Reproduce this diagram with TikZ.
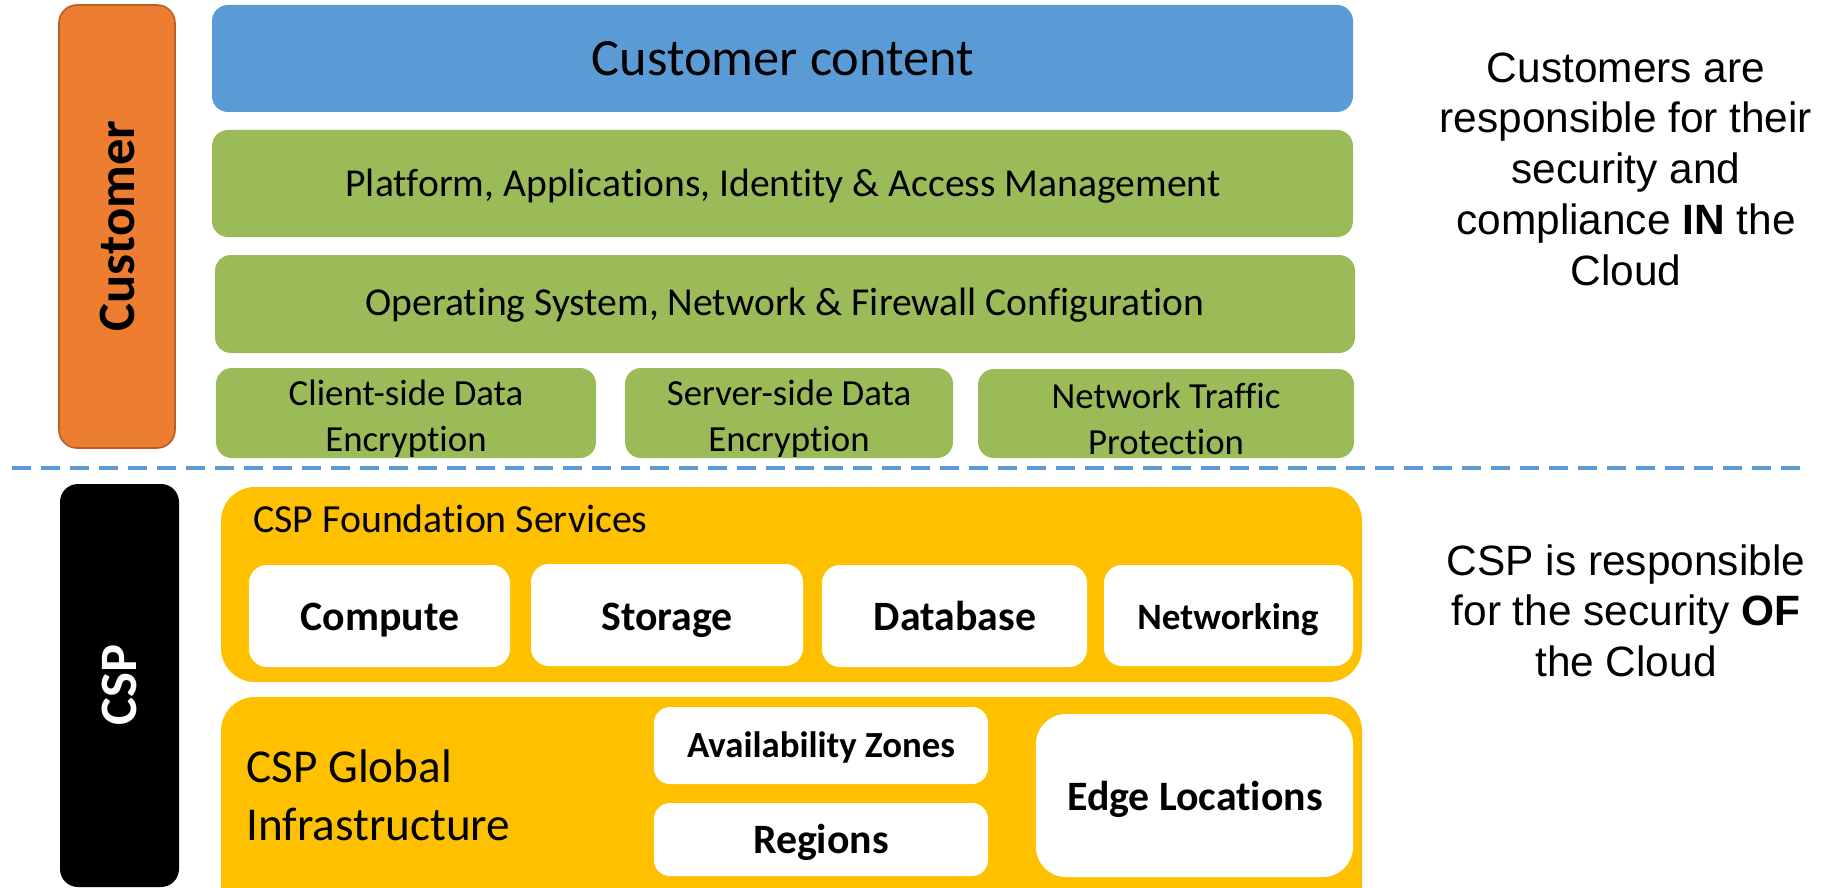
\documentclass[tikz,border=0pt]{standalone}
\usepackage{fontspec}
\setmainfont{Carlito}[Ligatures={NoCommon,NoContextual}, RawFeature={-liga;-clig;-calt;-dlig}]
\newfontfamily\arialfont{Liberation Sans}
\usepackage{tikz}
\definecolor{cblue}{HTML}{5B9BD5}
\definecolor{cgreen}{HTML}{9BBB59}
\definecolor{corange}{HTML}{ED7D31}
\definecolor{corangedark}{HTML}{B85F24}
\definecolor{cyellow}{HTML}{FFC000}
\tikzset{
	greenbox/.style={fill=cgreen, rounded corners=8pt},
	whitebox/.style={fill=white, rounded corners=9pt},
	yellowbox/.style={fill=cyellow, rounded corners=17pt},
	sidebar/.style={rotate=90, inner sep=0, font=\bfseries\fontsize{26.3}{30}\selectfont},
	layertext/.style={inner sep=0, anchor=base, font=\fontsize{19.8}{24}\selectfont},
	smalltext/.style={inner sep=0, align=center, font=\fontsize{18.4}{23}\selectfont},
	servicetext/.style={inner sep=0, anchor=base, font=\bfseries\fontsize{20.9}{25}\selectfont},
	notetext/.style={inner sep=0, anchor=north, align=center, font=\arialfont\fontsize{21.2}{25.4}\selectfont},
}

\begin{document}
\begin{tikzpicture}[x=0.5pt, y=-0.5pt]
			%%%%% START %%%%%
			
			\clip (0, 0) rectangle (1821, 888);
			\fill[white] (0, 0) rectangle (1821, 888);
			
			\draw[fill=corange, draw=corangedark, line width=0.8pt, rounded corners=9pt] (59, 5) rectangle (175, 448);
			\node[sidebar] (customer) at (117, 226) {Customer};
			
			\fill[cblue, rounded corners=8pt] (212, 5) rectangle (1353, 112);
			\node[inner sep=0, anchor=base, font=\fontsize{26.2}{30}\selectfont] (content) at (783, 76) {Customer content};
			
			\fill[greenbox] (212, 130) rectangle (1353, 237);
			\node[layertext] (platform) at (783, 197) {Platform, Applications, Identity \& Access Management};
			
			\fill[greenbox] (215, 255) rectangle (1355, 353);
			\node[layertext] (os) at (785, 315) {Operating System, Network \& Firewall Configuration};
			
			\fill[greenbox] (216, 368) rectangle (596, 458);
			\node[smalltext] (client) at (406, 419) {Client-side Data\\Encryption};
			\fill[greenbox] (625, 368) rectangle (953, 458);
			\node[smalltext] (server) at (789, 419) {Server-side Data\\Encryption};
			\fill[greenbox] (978, 369) rectangle (1354, 458);
			\node[smalltext] (traffic) at (1166, 419) {Network Traffic\\Protection};
			
			\draw[cblue, line width=2.3pt, dash pattern=on 9.5pt off 5pt] (12, 468) -- (1808, 468);
			
			\fill[black, rounded corners=9pt] (60, 484) rectangle (179, 887);
			\node[sidebar, white] (csp) at (119.5, 685) {CSP};
			
			\fill[yellowbox] (221, 487) rectangle (1362, 682);
			\node[inner sep=0, anchor=base west, font=\fontsize{19.9}{24}\selectfont] (foundation) at (253, 532) {CSP Foundation Services};
			
			\fill[whitebox] (249, 565) rectangle (510, 667);
			\node[servicetext] (compute) at (380, 630) {Compute};
			\fill[whitebox] (531, 564) rectangle (803, 666);
			\node[servicetext] (storage) at (667, 630) {Storage};
			\fill[whitebox] (822, 565) rectangle (1087, 667);
			\node[servicetext] (database) at (955, 630) {Database};
			\fill[whitebox] (1104, 565) rectangle (1353, 666);
			\node[servicetext, font=\bfseries\fontsize{18.6}{22}\selectfont] (networking) at (1228, 629) {Networking};
			
			\fill[yellowbox] (221, 697) rectangle (1362, 930);
			\node[inner sep=0, anchor=west, align=left, font=\fontsize{23.6}{29}\selectfont] (global) at (246, 795) {CSP Global\\Infrastructure};
			
			\fill[whitebox, rounded corners=8pt] (654, 707) rectangle (988, 784);
			\node[servicetext, font=\bfseries\fontsize{18.4}{22}\selectfont] (zones) at (821, 757) {Availability Zones};
			\fill[whitebox, rounded corners=8pt] (654, 803) rectangle (988, 876);
			\node[servicetext] (regions) at (821, 853) {Regions};
			\fill[whitebox, rounded corners=15pt] (1036, 714) rectangle (1353, 877);
			\node[servicetext] (edge) at (1195, 810) {Edge Locations};
			
			\node[notetext] (customernote) at (1626, 52) {Customers are\\responsible for their\\security and\\compliance \textbf{IN} the\\Cloud};
			\node[notetext] (cspnote) at (1626, 544) {CSP is responsible\\for the security \textbf{OF}\\the Cloud};
			
			%%%%% END %%%%%
\end{tikzpicture}
\end{document}
